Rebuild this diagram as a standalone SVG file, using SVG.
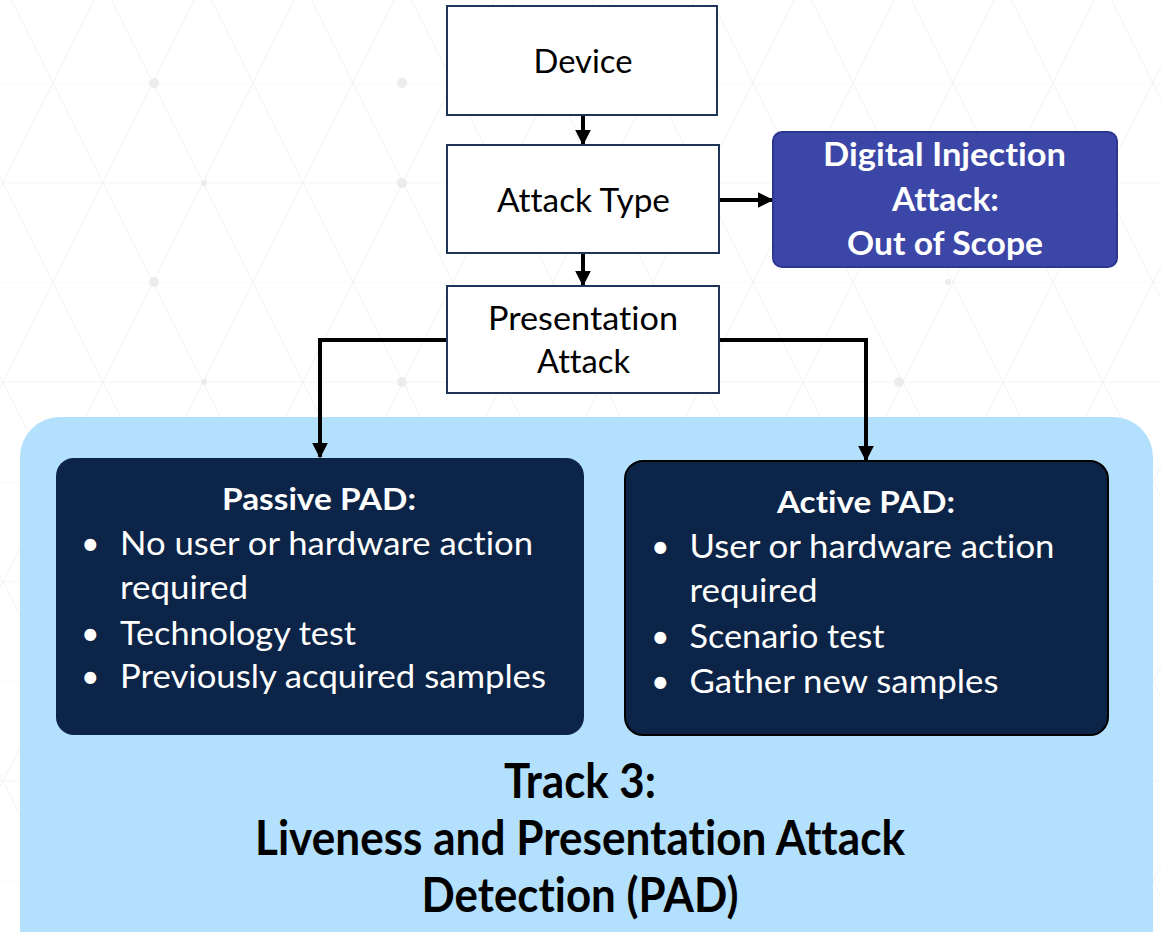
<svg xmlns="http://www.w3.org/2000/svg" width="1161" height="932" viewBox="0 0 1161 932">
  <defs>
    <style>
      text { font-family: Lato, "Open Sans", sans-serif; font-variant-ligatures: none; }
      .box { fill: #ffffff; stroke: #1f3557; stroke-width: 2; }
      .lbl { font-size: 32px; fill: #000000; text-anchor: middle; }
      .inj { fill: #3c46a7; stroke: #2d3690; stroke-width: 2; }
      .inj-t { font-size: 32px; font-weight: bold; fill: #ffffff; text-anchor: middle; }
      .pad { fill: #0c2447; }
      .pad-h { font-size: 31px; font-weight: bold; fill: #ffffff; text-anchor: middle; }
      .pad-t { font-size: 32px; fill: #ffffff; }
      .title { font-size: 47px; font-weight: bold; fill: #000000; text-anchor: middle; }
      .conn { fill: none; stroke: #000000; stroke-width: 4; }
      .grid { fill: none; stroke: #f3f3f3; stroke-width: 1; }
      .dot { fill: #ececec; }
    </style>
    <marker id="arrow" viewBox="0 0 10 10" refX="9" refY="5" markerWidth="4" markerHeight="4" markerUnits="strokeWidth" orient="auto">
      <path d="M0,0 L10,5 L0,10 z" fill="#000000"/>
    </marker>
    <!-- faint lattice of slanted triangles behind everything -->
    <pattern id="lattice" patternUnits="userSpaceOnUse" x="3" y="83" width="100" height="199.4">
      <path class="grid" d="M0,0 H100 M0,99.7 H100 M50,0 L100,99.7 L50,199.4 L0,99.7 Z"/>
    </pattern>
  </defs>

  <!-- page background -->
  <rect x="0" y="0" width="1161" height="932" fill="#ffffff"/>
  <rect x="0" y="0" width="1161" height="932" fill="url(#lattice)"/>
  <g id="lattice-dots">
    <circle class="dot" cx="154" cy="83" r="5"/>
    <circle class="dot" cx="204" cy="183" r="3"/>
    <circle class="dot" cx="154" cy="282" r="5"/>
    <circle class="dot" cx="204" cy="382" r="3"/>
    <circle class="dot" cx="402" cy="83" r="5"/>
    <circle class="dot" cx="402" cy="183" r="5"/>
    <circle class="dot" cx="402" cy="382" r="5"/>
    <circle class="dot" cx="899" cy="382" r="5"/>
    <circle class="dot" cx="948" cy="282" r="3"/>
  </g>

  <!-- track container -->
  <g id="track3">
    <rect x="20" y="417" width="1133" height="560" rx="40" ry="40" fill="#b3e0fd"/>
    <text class="title" x="580" y="798" textLength="152" lengthAdjust="spacingAndGlyphs">Track 3:</text>
    <text class="title" x="580" y="855" textLength="650" lengthAdjust="spacingAndGlyphs">Liveness and Presentation Attack</text>
    <text class="title" x="580" y="912" textLength="317" lengthAdjust="spacingAndGlyphs">Detection (PAD)</text>
  </g>

  <!-- connectors -->
  <g id="connectors">
    <line class="conn" x1="583" y1="115" x2="583" y2="144" marker-end="url(#arrow)"/>
    <line class="conn" x1="583" y1="253" x2="583" y2="285" marker-end="url(#arrow)"/>
    <line class="conn" x1="719" y1="200" x2="772" y2="200" marker-end="url(#arrow)"/>
    <polyline class="conn" points="447,340 320,340 320,457" marker-end="url(#arrow)"/>
    <polyline class="conn" points="719,340 866,340 866,460" marker-end="url(#arrow)"/>
  </g>

  <g id="device">
    <rect class="box" x="447" y="6" width="270" height="109"/>
    <text class="lbl" x="583" y="73" textLength="99" lengthAdjust="spacingAndGlyphs">Device</text>
  </g>

  <g id="attack-type">
    <rect class="box" x="447" y="145" width="272" height="108"/>
    <text class="lbl" x="583.5" y="212" textLength="173" lengthAdjust="spacingAndGlyphs">Attack Type</text>
  </g>

  <g id="presentation-attack">
    <rect class="box" x="447" y="286" width="272" height="107"/>
    <text class="lbl" x="583" y="330" textLength="190" lengthAdjust="spacingAndGlyphs">Presentation</text>
    <text class="lbl" x="583.5" y="373" textLength="93" lengthAdjust="spacingAndGlyphs">Attack</text>
  </g>

  <g id="digital-injection">
    <rect class="inj" x="773" y="132" width="344" height="135" rx="9" ry="9"/>
    <text class="inj-t" x="944.5" y="166" textLength="243" lengthAdjust="spacingAndGlyphs">Digital Injection</text>
    <text class="inj-t" x="945.5" y="211" textLength="107" lengthAdjust="spacingAndGlyphs">Attack:</text>
    <text class="inj-t" x="945" y="255" textLength="196" lengthAdjust="spacingAndGlyphs">Out of Scope</text>
  </g>

  <g id="passive-pad">
    <rect class="pad" x="56" y="458" width="528" height="277" rx="18" ry="18"/>
    <text class="pad-h" x="319" y="510" textLength="194" lengthAdjust="spacingAndGlyphs">Passive PAD:</text>
    <text class="pad-t" x="81" y="555">•</text>
    <text class="pad-t" x="120" y="555" textLength="413" lengthAdjust="spacingAndGlyphs">No user or hardware action</text>
    <text class="pad-t" x="120" y="599" textLength="128" lengthAdjust="spacingAndGlyphs">required</text>
    <text class="pad-t" x="81" y="645">•</text>
    <text class="pad-t" x="120" y="645" textLength="236" lengthAdjust="spacingAndGlyphs">Technology test</text>
    <text class="pad-t" x="81" y="688">•</text>
    <text class="pad-t" x="120" y="688" textLength="426" lengthAdjust="spacingAndGlyphs">Previously acquired samples</text>
  </g>

  <g id="active-pad">
    <rect class="pad" x="625" y="461" width="483" height="274" rx="18" ry="18" stroke="#000000" stroke-width="2"/>
    <text class="pad-h" x="866" y="513" textLength="178" lengthAdjust="spacingAndGlyphs">Active PAD:</text>
    <text class="pad-t" x="651" y="558">•</text>
    <text class="pad-t" x="689.5" y="558" textLength="365" lengthAdjust="spacingAndGlyphs">User or hardware action</text>
    <text class="pad-t" x="689.5" y="602" textLength="128" lengthAdjust="spacingAndGlyphs">required</text>
    <text class="pad-t" x="651" y="648">•</text>
    <text class="pad-t" x="689.5" y="648" textLength="195" lengthAdjust="spacingAndGlyphs">Scenario test</text>
    <text class="pad-t" x="651" y="693">•</text>
    <text class="pad-t" x="689.5" y="693" textLength="309" lengthAdjust="spacingAndGlyphs">Gather new samples</text>
  </g>
</svg>
